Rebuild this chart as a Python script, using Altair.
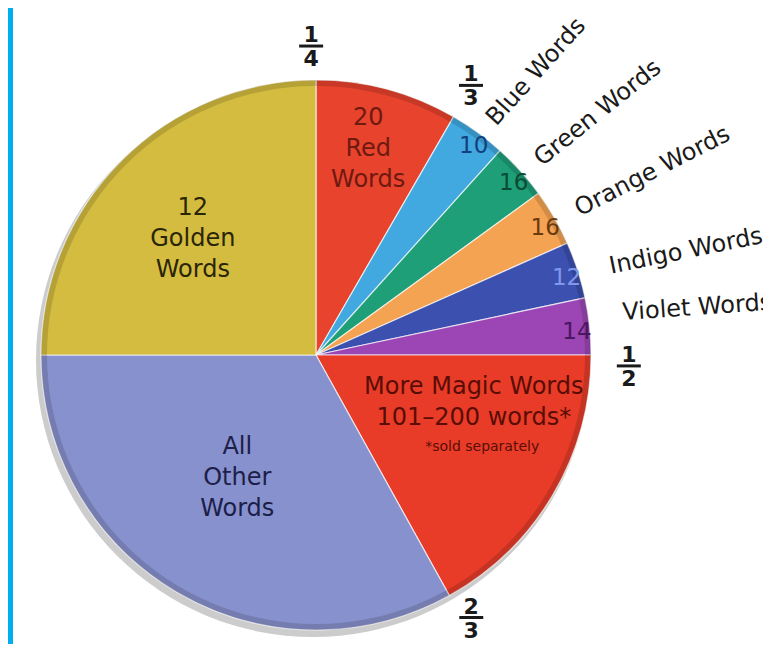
import pandas as pd
import altair as alt

# ---- data (slice sizes in degrees, clockwise from 12 o'clock)
slice_names = ["Red Words", "Blue Words", "Green Words", "Orange Words", "Indigo Words",
               "Violet Words", "More Magic Words", "All Other Words", "Golden Words"]
slice_sizes = [30, 12, 12, 12, 12, 12, 61, 119, 90]
slice_colors = ["#E8432D", "#41A9E0", "#1E9F78", "#F4A352", "#3C50B0",
                "#9B46B4", "#E83C28", "#8791CD", "#D3BC3F"]

# numbers printed on the narrow slices
count_slices = ["Blue Words", "Green Words", "Orange Words", "Indigo Words", "Violet Words"]
count_values = ["10", "16", "16", "12", "14"]
count_colors = ["#123f7e", "#0b4a33", "#6a3a10", "#7f98ea", "#4a1660"]

# large labels inside slices
big_labels = ["12\nGolden\nWords", "20\nRed\nWords", "More Magic Words\n101–200 words*",
              "All\nOther\nWords"]
big_label_colors = ["#2b2508", "#6e1a10", "#5a0d05", "#1c2048"]
note_label = "*sold separately"

# rotated labels outside the pie
outer_labels = ["Blue Words", "Green Words", "Orange Words", "Indigo Words", "Violet Words"]

# fractions printed at slice boundaries (end of the named slice)
frac_num = ["1", "1", "1", "2"]
frac_den = ["4", "3", "2", "3"]
fraction_after = ["Golden Words", "Red Words", "Violet Words", "More Magic Words"]

# ---- layout (label anchors: angle nudges in degrees and radii in pixels)
CX, CY, R = 308, 347, 275
FONT = "DejaVu Sans"

starts, acc = {}, 0
for n, s in zip(slice_names, slice_sizes):
    starts[n] = acc
    acc += s
ends = {n: starts[n] + s for n, s in zip(slice_names, slice_sizes)}
mids = {n: starts[n] + s / 2 for n, s in zip(slice_names, slice_sizes)}

theta_scale = alt.Scale(domain=[0, 360])

pie_df = pd.DataFrame({"name": slice_names, "value": slice_sizes,
                       "order": list(range(len(slice_names))), "fill": slice_colors})
full_df = pd.DataFrame({"value": [360]})

count_df = pd.DataFrame({"label": count_values, "t": [mids[n] + 1 for n in count_slices],
                         "r": [262] * len(count_values), "c": count_colors})
# anchors are for the first line of each block
big_df = pd.DataFrame({"label": big_labels, "t": [320.1, 12.4, 101.4, 220.6],
                       "r": [192, 243, 161, 121], "c": big_label_colors})
note_df = pd.DataFrame({"label": [note_label], "t": [119.0], "r": [190], "c": ["#5a0d05"]})
outer_df = pd.DataFrame({"label": outer_labels,
                         "t": [mids[n] + d for n, d in zip(outer_labels, [2.3, 2.2, 2.3, 2.6, -0.5])],
                         "r": [291, 294, 298, 306, 309],
                         "rot": [312, 321.4, 333, 348.5, 356]})
# fraction bar anchors
frac_df = pd.DataFrame({"num": frac_num, "den": frac_den,
                        "t": [(ends[n] + d) % 360 for n, d in zip(fraction_after, [-0.9, -0.1, 2.0, -1.6])],
                        "r": [309, 311, 313, 305]})

center = dict(x=alt.value(CX), y=alt.value(CY))

shadow = alt.Chart(full_df).mark_arc(fill="#555555", opacity=0.3).encode(
    theta=alt.Theta("value:Q", scale=theta_scale),
    x=alt.value(CX - 3), y=alt.value(CY + 5), radius=alt.value(R + 2))

pie = alt.Chart(pie_df).mark_arc(stroke="#ffffff", strokeWidth=1.2, strokeOpacity=0.7).encode(
    theta=alt.Theta("value:Q", stack=True, scale=theta_scale),
    order=alt.Order("order:Q"),
    color=alt.Color("fill:N", scale=None),
    radius=alt.value(R), **center)

rim = alt.Chart(full_df).mark_arc(fill="#000000", opacity=0.14).encode(
    theta=alt.Theta("value:Q", scale=theta_scale),
    radius=alt.value(R), radius2=alt.value(R - 6), **center)

def polar_text(df, field="label", **mark_kw):
    return alt.Chart(df).mark_text(font=FONT, **mark_kw).encode(
        theta=alt.Theta("t:Q", stack=False, scale=theta_scale),
        radius=alt.Radius("r:Q", scale=None),
        text=f"{field}:N", **center)

counts = polar_text(count_df, fontSize=23, align="center", baseline="middle").encode(
    color=alt.Color("c:N", scale=None))
bigs = polar_text(big_df, fontSize=24, lineHeight=31, lineBreak="\n",
                  align="center", baseline="middle").encode(color=alt.Color("c:N", scale=None))
note = polar_text(note_df, fontSize=14, align="center", baseline="middle").encode(
    color=alt.Color("c:N", scale=None))
outer = polar_text(outer_df, fontSize=24, align="left", baseline="alphabetic",
                   color="#1a1a1a").encode(angle=alt.Angle("rot:Q", scale=None))

frac_num_text = polar_text(frac_df, field="num", fontSize=22, fontWeight="bold",
                           align="center", baseline="alphabetic", dy=-4, color="#1a1a1a")
frac_den_text = polar_text(frac_df, field="den", fontSize=22, fontWeight="bold",
                           align="center", baseline="top", dy=3, color="#1a1a1a")
frac_bar = alt.Chart(frac_df).transform_calculate(
    px=f"{CX} + datum.r * sin(datum.t * PI / 180) - 12",
    px2=f"{CX} + datum.r * sin(datum.t * PI / 180) + 12",
    py=f"{CY} - datum.r * cos(datum.t * PI / 180)",
).mark_rule(color="#1a1a1a", strokeWidth=3).encode(
    x=alt.X("px:Q", scale=None), x2="px2:Q", y=alt.Y("py:Q", scale=None))

strip = alt.Chart(pd.DataFrame({"a": [0]})).mark_rect(color="#00AEEF").encode(
    x=alt.value(0), x2=alt.value(5), y=alt.value(0), y2=alt.value(636))

chart = alt.layer(shadow, pie, rim, counts, bigs, note, outer,
                  frac_bar, frac_num_text, frac_den_text, strip).properties(
    width=755, height=636, padding=0, background="#ffffff",
    autosize=alt.AutoSizeParams(type="none"),
).configure_view(strokeWidth=0)

chart.save("out.html", embed_options={"renderer": "svg", "actions": False})
